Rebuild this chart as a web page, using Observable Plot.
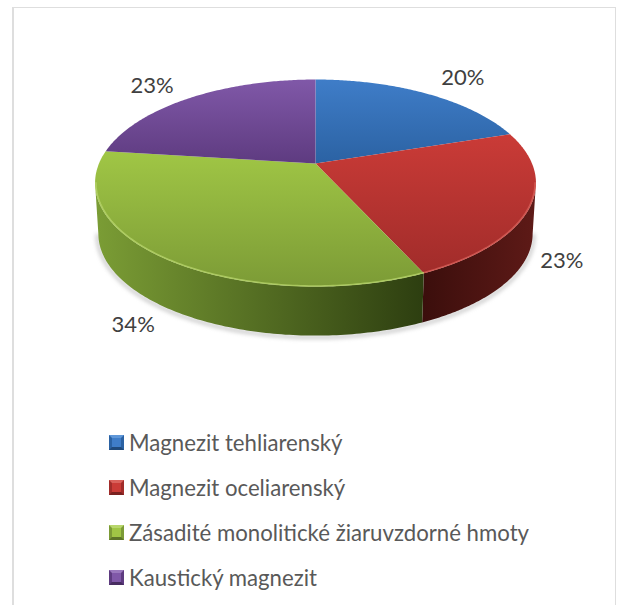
<!DOCTYPE html>
<html>
<head>
<meta charset="utf-8">
<script src="https://cdn.jsdelivr.net/npm/d3@7"></script>
<script src="https://cdn.jsdelivr.net/npm/@observablehq/plot@0.6"></script>
<style>
html,body{margin:0;padding:0;background:#fff;overflow:hidden}
#frame{position:absolute;left:12px;top:7px;width:604px;height:640px;border:1px solid #dedede;border-left-width:2px;border-bottom:none;box-sizing:border-box}
#chart{position:absolute;left:0;top:0;width:620px;height:420px}
#chart svg{display:block}
#legend{position:absolute;left:109px;top:420px;font-family:Lato,sans-serif;font-size:22.2px;color:#595959}
.row{display:flex;align-items:center;height:45px;white-space:nowrap}
.sw{box-sizing:border-box;width:15px;height:15px;margin-right:5px;border-style:solid;border-width:3px;flex:none}
</style>
</head>
<body>
<div id="frame"></div>
<div id="chart"></div>
<div id="legend"></div>
<script>
const categories = ["Magnezit tehliarenský","Magnezit oceliarenský","Zásadité monolitické žiaruvzdorné hmoty","Kaustický magnezit"];
const values = [20, 23.2, 33.8, 23];
const topColors = [["#3f7dc8","#2b62a3"],["#ca3b37","#a12c2a"],["#a0c645","#7c9b36"],["#8058a8","#5e3b80"]];
const wallColors = [["#2b62a3","#2b62a3"],["#3b0e0c","#5e1a17"],["#7b9d35","#2d3e10"],["#5e3b80","#5e3b80"]];
const rimColors = ["#5f97d8","#d9615b","#b8d66c","#9a78bd"];
const labelOffsets = [[37,-15],[32,54],[-31,67],[-38,-12]];

// Perspective disc: angle clockwise from the top, nearer points spread wider.
const k = 0.1884, wallDrop = 0.511, wallScale = 0.985, total = d3.sum(values);
const project = (t, s = 1, dz = 0) => {
  const w = 1 + k * Math.cos(t);
  return {x: s * Math.sin(t) / w, y: -s * Math.cos(t) / w + dz};
};
const arc = (a, b, s, dz) => d3.range(0, 121).map(i => project(a + (b - a) * i / 120, s, dz));
let c = 0;
const slices = values.map((v, i) => {
  const a = c / total * 2 * Math.PI; c += v;
  const b = c / total * 2 * Math.PI;
  return {i, a, b, mid: (a + b) / 2};
});
const tangentR = Math.acos(-k), tangentL = 2 * Math.PI - tangentR;
const frontOf = s => [Math.max(s.a, tangentR), Math.min(s.b, tangentL)];
const front = slices.filter(s => frontOf(s)[0] < frontOf(s)[1]);

const defs = () => {
  const d = d3.create("svg:defs");
  const grad = (id, cs, horizontal) => {
    const g = d.append("linearGradient").attr("id", id).attr("x1", 0).attr("y1", 0)
      .attr("x2", horizontal ? 1 : 0).attr("y2", horizontal ? 0 : 1);
    g.append("stop").attr("offset", 0).attr("stop-color", cs[0]);
    g.append("stop").attr("offset", 1).attr("stop-color", cs[1]);
  };
  topColors.forEach((cs, i) => grad("top" + i, cs, false));
  wallColors.forEach((cs, i) => grad("wall" + i, cs, true));
  return d.node();
};
const blur = px => (index, scales, values, dims, ctx, next) => {
  const g = next(index, scales, values, dims, ctx);
  g.style.filter = `blur(${px}px)`;
  return g;
};

const plot = Plot.plot({
  width: 620, height: 420, margin: 0,
  x: {domain: [-1, 1], range: [98.5, 531.5], axis: null},
  y: {domain: [-1, 1], range: [63.2, 262.8], axis: null},
  marks: [
    defs,
    // soft shadow hugging the underside
    Plot.line(arc(tangentR, tangentL, wallScale * 1.004, wallDrop + 0.012),
      {x: "x", y: "y", stroke: "#8a8a8a", strokeWidth: 3, strokeOpacity: 0.55, render: blur(2)}),
    // outer walls
    ...front.map(s => {
      const [a, b] = frontOf(s);
      return Plot.line([...arc(a, b), ...arc(a, b, wallScale, wallDrop).reverse()],
        {x: "x", y: "y", fill: `url(#wall${s.i})`, stroke: "none"});
    }),
    // top faces
    ...slices.map(s => Plot.line([{x: 0, y: 0}, ...arc(s.a, s.b), {x: 0, y: 0}],
      {x: "x", y: "y", fill: `url(#top${s.i})`, stroke: "none"})),
    // bevel highlight on the near rim
    ...front.map(s => {
      const [a, b] = frontOf(s);
      return Plot.line(arc(a, b, 0.996), {x: "x", y: "y", stroke: rimColors[s.i], strokeWidth: 1.6, strokeOpacity: 0.75, render: blur(0.5)});
    }),
    // percentage labels, anchored on each slice's rim midpoint
    ...slices.map(s => {
      const p = project(s.mid);
      return Plot.text([p], {x: "x", y: "y", text: () => `${Math.round(values[s.i])}%`, dx: labelOffsets[s.i][0], dy: labelOffsets[s.i][1],
        fontFamily: "Lato, sans-serif", fontSize: 22, fill: "#404040"});
    })
  ]
});
document.getElementById("chart").appendChild(plot);

const legend = d3.select("#legend").selectAll("div").data(categories).join("div").attr("class", "row");
legend.append("span").attr("class", "sw")
  .style("background", (d, i) => topColors[i][0])
  .style("border-color", (d, i) => `${rimColors[i]} ${topColors[i][1]} ${d3.color(topColors[i][1]).darker(0.8)} ${topColors[i][1]}`);
legend.append("span").text(d => d);
</script>
</body>
</html>
